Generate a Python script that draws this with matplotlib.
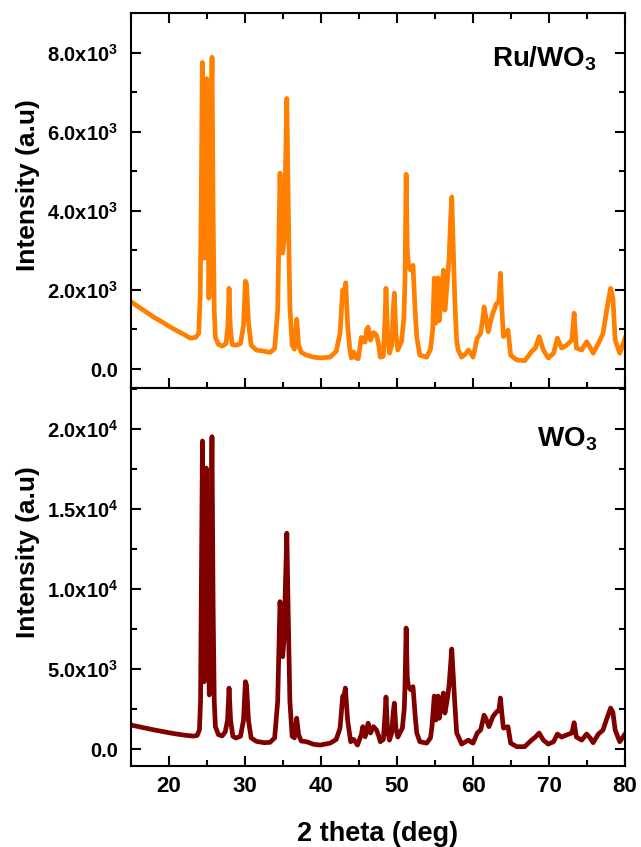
import numpy as np
import matplotlib
matplotlib.use('Agg')
import matplotlib.pyplot as plt
from matplotlib.ticker import MultipleLocator

plt.rcParams['font.family'] = ['Liberation Sans', 'DejaVu Sans']
plt.rcParams['font.weight'] = 'bold'
plt.rcParams['mathtext.fontset'] = 'custom'
plt.rcParams['mathtext.rm'] = 'Liberation Sans:bold'
plt.rcParams['mathtext.it'] = 'Liberation Sans:bold'
plt.rcParams['mathtext.bf'] = 'Liberation Sans:bold'

# Ru/WO3 pattern (2 theta, intensity)
tth_ruwo3 = [15.0, 16.0, 17.0, 18.0, 19.0, 20.0, 21.0, 22.0, 22.8, 23.5,
             23.9, 24.1, 24.25, 24.38, 24.5, 24.65, 24.8, 24.95, 25.1, 25.25,
             25.4, 25.55, 25.66, 25.8, 25.95, 26.1, 26.5, 27.0, 27.5, 27.75,
             27.9, 28.05, 28.3, 28.8, 29.4, 29.8, 30.05, 30.2, 30.45, 30.8,
             31.5, 32.5, 33.3, 33.9, 34.3, 34.6, 34.8, 34.95, 35.15, 35.3,
             35.5, 35.7, 35.9, 36.2, 36.5, 36.8, 37.05, 37.4, 38.1, 39.0,
             39.9, 41.2, 42.0, 42.5, 42.85, 43.05, 43.25, 43.5, 43.8, 44.0,
             44.3, 44.6, 44.9, 45.3, 45.6, 45.8, 46.0, 46.2, 46.5, 46.9,
             47.3, 47.6, 47.8, 48.2, 48.4, 48.55, 48.75, 49.0, 49.3, 49.5,
             49.65, 49.85, 50.1, 50.6, 50.9, 51.05, 51.2, 51.35, 51.5, 51.8,
             52.1, 52.4, 52.6, 53.0, 53.9, 54.4, 54.7, 54.9, 55.1, 55.25,
             55.4, 55.55, 55.8, 56.1, 56.3, 56.6, 56.85, 57.05, 57.2, 57.4,
             57.6, 57.85, 58.05, 58.5, 59.0, 59.4, 59.7, 60.0, 60.55, 61.0,
             61.3, 61.45, 61.7, 62.0, 62.3, 62.6, 63.1, 63.4, 63.6, 63.8,
             64.0, 64.3, 64.6, 64.95, 65.75, 66.8, 67.7, 68.2, 68.7, 69.25,
             69.9, 70.6, 71.1, 71.65, 72.3, 73.0, 73.3, 73.6, 74.3, 74.95,
             75.4, 75.8, 76.5, 77.1, 77.6, 78.1, 78.4, 78.7, 79.3, 80.0]
int_ruwo3 = [1700, 1570, 1440, 1310, 1200, 1080, 970, 870, 780, 800,
             900, 1800, 4500, 7750, 5000, 2800, 4200, 7340, 4200, 1790,
             3500, 6500, 7880, 4000, 1500, 800, 620, 580, 640, 1100,
             2040, 1100, 620, 600, 640, 1100, 2220, 2150, 1200, 600,
             480, 450, 420, 520, 1500, 4950, 3600, 2930, 3300, 4800,
             6840, 4000, 1600, 600, 500, 1260, 600, 420, 350, 300,
             280, 300, 450, 900, 2000, 1900, 2180, 1100, 480, 280,
             430, 280, 260, 800, 700, 680, 1000, 1060, 730, 920,
             860, 600, 300, 320, 1200, 2040, 900, 400, 600, 1500,
             1920, 900, 480, 700, 1300, 2250, 4920, 3000, 2620, 2500,
             2620, 1400, 800, 350, 300, 500, 1000, 2300, 1160, 1800,
             2300, 1220, 1700, 2500, 1490, 2170, 2800, 3800, 4350, 3000,
             1740, 700, 480, 300, 380, 480, 400, 300, 780, 900,
             1300, 1570, 1300, 940, 1200, 1410, 1660, 1700, 2420, 1500,
             820, 900, 980, 350, 230, 210, 440, 530, 820, 480,
             280, 400, 780, 530, 600, 730, 1410, 530, 480, 690,
             550, 400, 650, 900, 1500, 2040, 1800, 730, 400, 780]

# WO3 pattern
tth_wo3 = [15.0, 16.0, 17.0, 18.0, 19.0, 20.0, 21.0, 22.0, 23.2, 23.7,
           24.0, 24.15, 24.25, 24.4, 24.5, 24.62, 24.75, 24.9, 25.05, 25.3,
           25.45, 25.65, 25.8, 25.95, 26.1, 26.5, 27.0, 27.4, 27.7, 27.9,
           28.1, 28.4, 28.8, 29.4, 29.8, 30.05, 30.2, 30.45, 30.8, 31.5,
           32.5, 33.3, 33.9, 34.3, 34.6, 34.8, 34.95, 35.15, 35.3, 35.5,
           35.7, 35.9, 36.2, 36.5, 36.8, 37.05, 37.4, 38.1, 39.0, 39.9,
           41.2, 42.0, 42.5, 42.85, 43.05, 43.2, 43.5, 43.9, 44.3, 44.8,
           45.3, 45.5, 45.8, 46.2, 46.5, 46.9, 47.3, 47.6, 47.8, 48.2,
           48.4, 48.55, 48.75, 49.0, 49.3, 49.5, 49.65, 49.85, 50.1, 50.7,
           50.95, 51.05, 51.2, 51.35, 51.5, 51.8, 52.1, 52.4, 52.6, 53.0,
           53.9, 54.4, 54.6, 54.9, 55.1, 55.25, 55.4, 55.55, 55.8, 56.1,
           56.3, 56.6, 56.85, 57.05, 57.2, 57.4, 57.6, 57.85, 58.1, 58.5,
           59.0, 59.4, 59.7, 60.0, 60.55, 61.0, 61.3, 61.45, 61.7, 62.1,
           62.6, 63.1, 63.4, 63.6, 63.8, 64.0, 64.3, 64.6, 64.95, 65.75,
           66.8, 67.7, 68.2, 68.7, 69.25, 69.9, 70.6, 71.1, 71.65, 72.3,
           73.0, 73.3, 73.6, 74.3, 74.95, 75.4, 75.8, 76.5, 77.1, 77.6,
           78.1, 78.4, 78.7, 79.3, 80.0]
int_wo3 = [1500, 1400, 1300, 1200, 1110, 1020, 940, 870, 810, 850,
           1200, 3000, 10000, 19250, 12000, 4200, 10000, 17560, 9000, 3380,
           9000, 19520, 9000, 3000, 1400, 900, 820, 1080, 1800, 3810,
           1800, 800, 690, 800, 1800, 4210, 4000, 1800, 700, 480,
           400, 420, 700, 3000, 9210, 7500, 5770, 7000, 10000, 13490,
           8000, 3000, 800, 700, 1930, 900, 500, 460, 300, 250,
           370, 600, 1300, 3300, 3400, 3810, 1800, 460, 600, 250,
           900, 1400, 770, 1620, 1000, 1400, 1190, 800, 460, 600,
           2000, 3250, 1200, 560, 1000, 2300, 2870, 1300, 750, 1310,
           2500, 4000, 7560, 4500, 3900, 3700, 3900, 2000, 1000, 460,
           370, 700, 1400, 3310, 1810, 2600, 3310, 1920, 2600, 3500,
           2250, 3060, 4000, 5300, 6250, 4500, 2870, 1000, 750, 310,
           450, 560, 450, 370, 1000, 1190, 1800, 2120, 1900, 1400,
           2020, 2330, 2400, 3190, 2200, 1310, 1350, 1400, 370, 150,
           150, 560, 750, 1000, 560, 310, 460, 940, 750, 880,
           1000, 1650, 750, 560, 940, 700, 400, 940, 1190, 1900,
           2560, 2300, 1190, 460, 940]

yticks_top = [0, 2000, 4000, 6000, 8000]
ylabels_top = ['0.0', '2.0x10$^{3}$', '4.0x10$^{3}$', '6.0x10$^{3}$', '8.0x10$^{3}$']
yticks_bot = [0, 5000, 10000, 15000, 20000]
ylabels_bot = ['0.0', '5.0x10$^{3}$', '1.0x10$^{4}$', '1.5x10$^{4}$', '2.0x10$^{4}$']

fig = plt.figure(figsize=(6.41, 8.47), dpi=100)
ax1 = fig.add_axes([0.2044, 0.5419, 0.7707, 0.4428])
ax2 = fig.add_axes([0.2044, 0.0956, 0.7707, 0.4463])

ax1.plot(tth_ruwo3, int_ruwo3, color='#FF8000', lw=3.4)
ax2.plot(tth_wo3, int_wo3, color='#800000', lw=3.4)

ax1.set_ylim(-480, 9000)
ax2.set_ylim(-1060, 22560)
ax1.yaxis.set_minor_locator(MultipleLocator(1000))
ax2.yaxis.set_minor_locator(MultipleLocator(2500))
ax1.set_yticks(yticks_top)
ax1.set_yticklabels(ylabels_top)
ax2.set_yticks(yticks_bot)
ax2.set_yticklabels(ylabels_bot)

for ax in (ax1, ax2):
    ax.set_xlim(15, 80)
    ax.xaxis.set_major_locator(MultipleLocator(10))
    ax.xaxis.set_minor_locator(MultipleLocator(5))
    ax.tick_params(which='both', direction='in', top=True, right=True, width=1.5)
    ax.tick_params(which='major', length=7)
    ax.tick_params(which='minor', length=4)
    ax.tick_params(axis='y', labelsize=14.5, pad=9)
    ax.tick_params(axis='x', labelsize=16, pad=7)
    for s in ax.spines.values():
        s.set_linewidth(1.5)

ax1.tick_params(axis='x', labelbottom=False)
ax2.tick_params(axis='x', which='both', top=False)

ax1.text(0.731, 0.857, 'Ru/WO$_{3}$', transform=ax1.transAxes, fontsize=20,
         ha='left', va='baseline')
ax2.text(0.822, 0.845, 'WO$_{3}$', transform=ax2.transAxes, fontsize=20,
         ha='left', va='baseline')

fig.text(28 / 641, 0.782, 'Intensity (a.u)', rotation=90, fontsize=19,
         ha='center', va='center')
fig.text(28 / 641, 0.3477, 'Intensity (a.u)', rotation=90, fontsize=19,
         ha='center', va='center')
fig.text(0.589, 0.0065, '2 theta (deg)', fontsize=19.5, ha='center', va='baseline')

fig.savefig('out.png', dpi=100)
